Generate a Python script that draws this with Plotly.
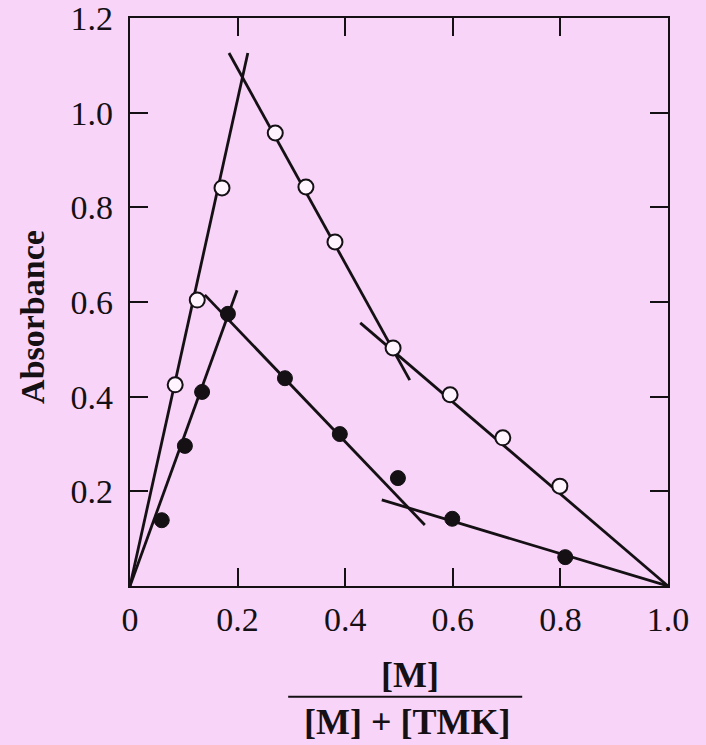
import plotly.graph_objects as go

# Job plot: absorbance vs. mole fraction [M]/([M]+[TMK])
open_x = [0.084, 0.125, 0.171, 0.270, 0.327, 0.381, 0.489, 0.595, 0.693, 0.799]
open_y = [0.425, 0.604, 0.841, 0.957, 0.843, 0.727, 0.503, 0.404, 0.313, 0.211]

filled_x = [0.059, 0.102, 0.134, 0.182, 0.288, 0.390, 0.498, 0.599, 0.809]
filled_y = [0.139, 0.296, 0.410, 0.575, 0.439, 0.321, 0.228, 0.142, 0.061]

# straight-line fits (segment end points)
open_rise_x = [0.0, 0.219]
open_rise_y = [0.0, 1.126]
open_fall1_x = [0.184, 0.520]
open_fall1_y = [1.126, 0.435]
open_fall2_x = [0.428, 1.0]
open_fall2_y = [0.556, 0.0]

filled_rise_x = [0.0, 0.199]
filled_rise_y = [0.0, 0.625]
filled_fall1_x = [0.139, 0.548]
filled_fall1_y = [0.615, 0.129]
filled_fall2_x = [0.468, 1.0]
filled_fall2_y = [0.182, 0.0]

x_ticks = [0, 0.2, 0.4, 0.6, 0.8, 1.0]
x_tick_text = ["0", "0.2", "0.4", "0.6", "0.8", "1.0"]
y_ticks = [0.2, 0.4, 0.6, 0.8, 1.0, 1.2]
y_tick_text = ["0.2", "0.4", "0.6", "0.8", "1.0", "1.2"]

BG = "#f9d4f9"
INK = "#141014"
SERIF = "Liberation Serif, Times New Roman, serif"

fig = go.Figure()

for xs, ys in [
    (open_rise_x, open_rise_y), (open_fall1_x, open_fall1_y), (open_fall2_x, open_fall2_y),
    (filled_rise_x, filled_rise_y), (filled_fall1_x, filled_fall1_y), (filled_fall2_x, filled_fall2_y),
]:
    fig.add_trace(go.Scatter(x=xs, y=ys, mode="lines",
                             line=dict(color=INK, width=2.8),
                             hoverinfo="skip", showlegend=False))

fig.add_trace(go.Scatter(x=open_x, y=open_y, mode="markers",
                         marker=dict(symbol="circle", size=15, color="#fff4ff",
                                     line=dict(color=INK, width=2)),
                         showlegend=False))
fig.add_trace(go.Scatter(x=filled_x, y=filled_y, mode="markers",
                         marker=dict(symbol="circle", size=15, color=INK,
                                     line=dict(color=INK, width=1)),
                         showlegend=False))

axis_common = dict(showline=True, linecolor=INK, linewidth=2.2, mirror="ticks",
                   ticks="inside", ticklen=18, tickwidth=1.8, tickcolor=INK,
                   showgrid=False, zeroline=False, automargin=False,
                   ticklabeloverflow="allow",
                   tickfont=dict(family=SERIF, size=34, color=INK))

fig.update_xaxes(range=[0, 1.0], tickvals=x_ticks, ticktext=x_tick_text,
                 ticklabelstandoff=2, **axis_common)
fig.update_yaxes(range=[0, 1.2], tickvals=y_ticks, ticktext=y_tick_text,
                 ticklabelstandoff=8, **axis_common)

fig.add_annotation(text="<b>Absorbance</b>", xref="paper", yref="paper",
                   x=-0.180, y=0.474, textangle=-90, showarrow=False,
                   font=dict(family=SERIF, size=34, color=INK),
                   xanchor="center", yanchor="middle")
fig.add_annotation(text="<b>[M]</b>", xref="paper", yref="paper",
                   x=0.520, y=-0.157, showarrow=False,
                   font=dict(family=SERIF, size=36, color=INK),
                   xanchor="center", yanchor="middle")
fig.add_annotation(text="<b>[M] + [TMK]</b>", xref="paper", yref="paper",
                   x=0.515, y=-0.240, showarrow=False,
                   font=dict(family=SERIF, size=36, color=INK),
                   xanchor="center", yanchor="middle")
fig.add_shape(type="line", xref="paper", yref="paper",
              x0=0.294, x1=0.729, y0=-0.195, y1=-0.195,
              line=dict(color=INK, width=2))

fig.update_layout(width=706, height=745,
                  margin=dict(l=130, r=38, t=18, b=159),
                  paper_bgcolor=BG, plot_bgcolor=BG,
                  font=dict(family=SERIF, color=INK))

fig.write_html("out.html")
